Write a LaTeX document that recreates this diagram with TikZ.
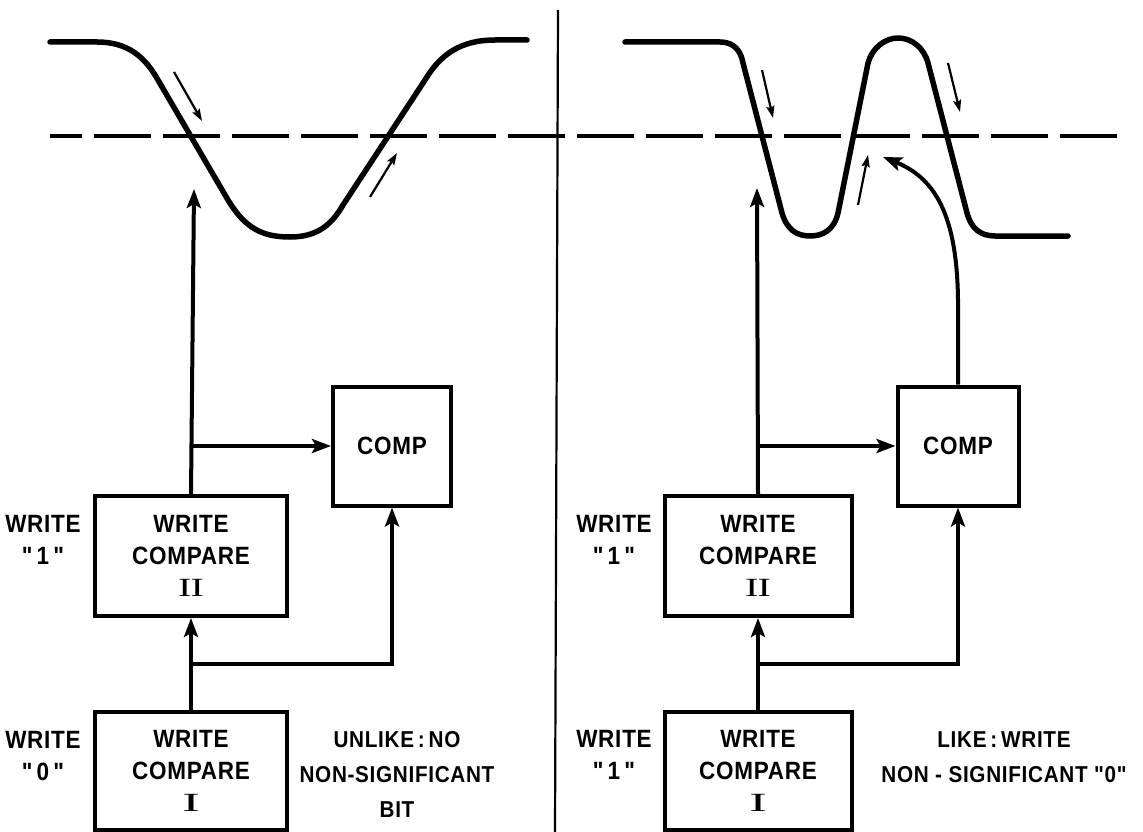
\documentclass[tikz,border=0pt]{standalone}
\usepackage{fontspec}
\setmainfont{Liberation Sans}[Ligatures=TeXOff, FakeStretch=0.9, LetterSpace=3]
\newfontfamily\numfont{Liberation Serif}[Ligatures=TeXOff]
\usepackage{tikz}
\usetikzlibrary{arrows.meta,calc}

\newcommand{\numII}{{\numfont\mdseries\scalebox{1.6}[1.05]{I\kern-0.6pt I}}}
\newcommand{\numI}{{\numfont\mdseries\scalebox{2.1}[1.05]{I}}}

\tikzset{
  cbox/.style={draw, line width=4pt, align=center, inner sep=0pt},
  flow/.style={line width=4pt, -{Stealth[length=19pt,width=14pt,inset=4pt]}},
  hint/.style={line width=2.2pt, -{Stealth[length=12pt,width=8pt,inset=2pt]}},
  wave/.style={line width=5.5pt, line cap=round, line join=round},
  every node/.style={font=\fontsize{25}{32}\selectfont\bfseries},
}

\begin{document}
\begin{tikzpicture}[x=1pt,y=-1pt]
\useasboundingbox (0,0) rectangle (1143,832);

% divider and threshold
\draw[line width=2.2pt] (558,10) -- (555,832);
\draw[line width=3.2pt, dash pattern=on 57pt off 12pt, dash phase=25pt]
(50,136) -- (1120,136);

% left panel
\draw[wave]
(50,42) -- (97,42) .. controls (128,42) and (145,57) .. (158,80)
-- (228,200) .. controls (245,228) and (262,237) .. (290,237)
.. controls (318,237) and (332,224) .. (343,205)
-- (425,80) .. controls (440,55) and (460,40) .. (495,40) -- (527,40);
\draw[hint] (174,72) -- (202,121);
\draw[hint] (370,197) -- (397,153);

\node[cbox, minimum width=192pt, minimum height=120pt] (wcIIL) at (191,556)
{WRITE\\COMPARE\\\numII};
\node[cbox, minimum width=192pt, minimum height=118pt] (wcIL) at (191,771)
{WRITE\\COMPARE\\\numI};
\node[cbox, minimum width=118pt, minimum height=119pt] (compL) at (392,446) {COMP};
\node[align=center] (inL2) at (43,540) {WRITE\\"\,1\,"};
\node[align=center] (inL1) at (43,756) {WRITE\\"\,0\,"};
\node[align=center, font=\fontsize{23}{35}\selectfont\bfseries] (noteL) at (397,774)
{UNLIKE\,:\,NO\\NON-SIGNIFICANT\\BIT};

\coordinate (hitL) at (194,189);
\coordinate (jL) at ($(wcIL.north)!.5!(wcIIL.south)$);
\draw[flow] (wcIIL.north) -- (hitL);
\draw[flow] (wcIIL.north |- compL.west) -- (compL.west);
\draw[flow] (wcIL.north) -- (wcIIL.south);
\draw[flow] (jL) -| (compL.south);

% right panel
\draw[wave]
(625,42) -- (720,42) .. controls (735,42) and (741,52) .. (743,63)
-- (782,213) .. controls (787,230) and (797,236) .. (810,236)
.. controls (823,236) and (834,230) .. (838,213)
-- (868,63) .. controls (872,48) and (885,38) .. (898,38)
.. controls (912,38) and (924,48) .. (928,63)
-- (967,213) .. controls (971,228) and (980,236) .. (995,236) -- (1068,236);
\draw[hint] (762,70) -- (773,118);
\draw[hint] (858,205) -- (868,155);
\draw[hint] (948,63) -- (960,112);

\node[cbox, minimum width=187pt, minimum height=120pt] (wcIIR) at (758,556)
{WRITE\\COMPARE\\\numII};
\node[cbox, minimum width=187pt, minimum height=118pt] (wcIR) at (758,771)
{WRITE\\COMPARE\\\numI};
\node[cbox, minimum width=121pt, minimum height=119pt] (compR) at (958,446) {COMP};
\node[align=center] (inR2) at (614,540) {WRITE\\"\,1\,"};
\node[align=center] (inR1) at (614,755) {WRITE\\"\,1\,"};
\node[align=center, font=\fontsize{23}{35}\selectfont\bfseries] (noteR) at (1004,757)
{LIKE\,:\,WRITE\\NON - SIGNIFICANT "0"};

\coordinate (hitR) at (757,188);
\coordinate (tipR) at (883,157);
\coordinate (jR) at ($(wcIR.north)!.5!(wcIIR.south)$);
\draw[flow] (wcIIR.north) -- (hitR);
\draw[flow] (wcIIR.north |- compR.west) -- (compR.west);
\draw[flow] (wcIR.north) -- (wcIIR.south);
\draw[flow] (jR) -| (compR.south);
\draw[flow] (compR.north) -- (958,300) .. controls (957,215) and (935,178) .. (tipR);
\end{tikzpicture}
\end{document}
